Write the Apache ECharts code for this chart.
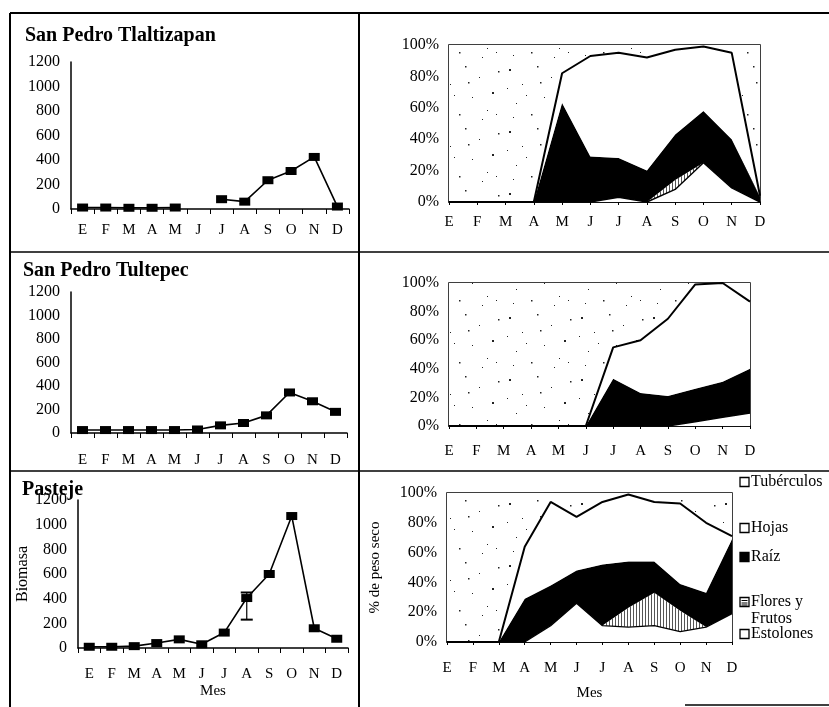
<!DOCTYPE html>
<html>
<head>
<meta charset="utf-8">
<script src="https://cdn.jsdelivr.net/npm/echarts@6/dist/echarts.min.js"></script>
<style>
html,body{margin:0;padding:0;background:#fff;}
#chart{width:829px;height:707px;}
</style>
</head>
<body>
<div id="chart"></div>
<script>
// ---------- data ----------
const months = ['E','F','M','A','M','J','J','A','S','O','N','D'];
const yTicksBiomasa = [0,200,400,600,800,1000,1200];
const yTicksPct = [0,20,40,60,80,100];

const titles = ['San Pedro Tlaltizapan','San Pedro Tultepec','Pasteje'];

// Biomasa (left column)
const biomasaTlaltizapan = [12,12,10,10,12,null,80,60,235,310,425,20];
const biomasaTultepec   = [25,25,25,25,25,30,65,85,150,345,270,180];
const biomasaPasteje    = [10,10,15,40,70,30,125,405,600,1070,160,75];
const errorPasteje      = [[7,230,450]]; // [month index, low, high]

// % de peso seco (right column)  — components, bottom to top
const legendNames = ['Tubérculos','Hojas','Raíz','Flores y Frutos','Estolones'];

const tlEstolones = [0,0,0,0,0,0,3,0,8,25,9,0];
const tlFlores    = [0,0,0,0,0,0,0,0,6,0,0,0];
const tlRaiz      = [0,0,0,0,63,29,25,20,29,33,31,3];
const tlHojas     = [0,0,0,0,19,64,67,72,54,41,55,1];
const tlTuberculos= [100,100,100,100,18,7,5,8,3,1,5,96];

const tuEstolones = [0,0,0,0,0,0,0,0,0,3,6,9];
const tuFlores    = [0,0,0,0,0,0,0,0,0,0,0,0];
const tuRaiz      = [0,0,0,0,0,0,33,23,21,23,25,31];
const tuHojas     = [0,0,0,0,0,0,22,37,54,73,69,47];
const tuTuberculos= [100,100,100,100,100,100,45,40,25,1,0,13];

const paEstolones = [0,0,0,0,11,26,11,10,11,7,10,19];
const paFlores    = [0,0,0,0,0,0,0,13,22,14,0,0];
const paRaiz      = [0,0,0,29,27,22,41,31,21,18,23,50];
const paHojas     = [0,0,0,35,56,36,42,45,40,54,47,2];
const paTuberculos= [100,100,100,36,6,16,6,1,6,7,20,29];

// ---------- patterns ----------
function stipple(){
  const c=document.createElement('canvas'); c.width=72; c.height=62;
  const g=c.getContext('2d'); g.fillStyle='#fff'; g.fillRect(0,0,72,62);
  g.fillStyle='#222';
  const pts=[[5,7,2],[18,22,1],[33,4,1.5],[47,15,1],[60,30,2],[12,41,1],[27,52,1.5],[40,35,1],[55,48,1],[66,9,1.5],[22,33,1],[50,57,1],[3,26,1],[36,20,1.5],[64,52,1],[9,55,1]];
  pts.forEach(p=>g.fillRect(p[0],p[1],p[2],p[2]));
  return c;
}
function hatch(){
  const c=document.createElement('canvas'); c.width=3; c.height=3;
  const g=c.getContext('2d'); g.fillStyle='#fff'; g.fillRect(0,0,3,3);
  g.fillStyle='#555'; g.fillRect(0,0,1,3);
  return c;
}
const stipplePat={image:stipple(),repeat:'repeat'};
const hatchPat={image:hatch(),repeat:'repeat'};

const serif='Liberation Serif';

// ---------- layout ----------
const leftGrids=[
  {left:71,top:62,width:278,height:147},
  {left:71,top:292,width:276,height:141},
  {left:78,top:500,width:270,height:148}
];
const rightGrids=[
  {left:449,top:45,width:311,height:157},
  {left:449,top:283,width:301,height:143},
  {left:447,top:493,width:285,height:149}
];
const leftLabelMargin=[14,20,19];
const rightLabelMargin=[13,18,19];

const grids=[], xAxes=[], yAxes=[], series=[];
leftGrids.forEach((g,i)=>{
  grids.push(Object.assign({show:false},g));
  xAxes.push({type:'category',gridIndex:i,data:months,boundaryGap:true,
    axisLine:{lineStyle:{color:'#000',width:1.5}},
    axisTick:{show:true,length:5,lineStyle:{color:'#000'}},
    axisLabel:{color:'#000',fontFamily:serif,fontSize:15,margin:leftLabelMargin[i],interval:0},
    name:i===2?'Mes':'',nameLocation:'middle',nameGap:36,
    nameTextStyle:{color:'#000',fontFamily:serif,fontSize:15}});
  yAxes.push({type:'value',gridIndex:i,min:yTicksBiomasa[0],max:yTicksBiomasa[yTicksBiomasa.length-1],interval:200,
    axisLine:{show:true,lineStyle:{color:'#000',width:1.5}},
    axisTick:{show:false},splitLine:{show:false},
    axisLabel:{color:'#000',fontFamily:serif,fontSize:16,margin:11,formatter:v=>String(v)},
    name:i===2?'Biomasa':'',nameLocation:'middle',nameGap:45,nameRotate:90,
    nameTextStyle:{color:'#000',fontFamily:serif,fontSize:16}});
});
rightGrids.forEach((g,i)=>{
  grids.push(Object.assign({show:true,borderColor:'#000',borderWidth:1.5,backgroundColor:'transparent'},g));
  xAxes.push({type:'category',gridIndex:3+i,data:months,boundaryGap:false,
    axisLine:{lineStyle:{color:'#000',width:1.5}},
    axisTick:{show:true,length:3,lineStyle:{color:'#000'}},
    axisLabel:{color:'#000',fontFamily:serif,fontSize:15,margin:rightLabelMargin[i],interval:0},
    name:i===2?'Mes':'',nameLocation:'middle',nameGap:44,
    nameTextStyle:{color:'#000',fontFamily:serif,fontSize:15}});
  yAxes.push({type:'value',gridIndex:3+i,min:0,max:100,interval:20,
    axisLine:{show:false},axisTick:{show:false},splitLine:{show:false},
    axisLabel:{color:'#000',fontFamily:serif,fontSize:16,margin:10,formatter:'{value}%'},
    name:i===2?'% de peso seco':'',nameLocation:'middle',nameGap:64,nameRotate:90,
    nameTextStyle:{color:'#000',fontFamily:serif,fontSize:15}});
});

// left line series
[biomasaTlaltizapan,biomasaTultepec,biomasaPasteje].forEach((d,i)=>{
  series.push({type:'line',xAxisIndex:i,yAxisIndex:i,data:d,connectNulls:false,
    symbol:'rect',symbolSize:[11,8],itemStyle:{color:'#000'},
    lineStyle:{color:'#000',width:1.6},z:4});
});
series.push({type:'custom',xAxisIndex:2,yAxisIndex:2,data:errorPasteje,z:5,
  encode:{x:0,y:[1,2]},
  renderItem:function(params,api){
    const x=api.value(0), lo=api.value(1), hi=api.value(2);
    const a=api.coord([x,lo]), b=api.coord([x,hi]);
    const st={stroke:'#000',lineWidth:1.2};
    const cap={stroke:'#000',lineWidth:2};
    return {type:'group',children:[
      {type:'line',shape:{x1:a[0],y1:a[1],x2:b[0],y2:b[1]},style:st},
      {type:'line',shape:{x1:a[0]-6,y1:a[1],x2:a[0]+6,y2:a[1]},style:cap},
      {type:'line',shape:{x1:b[0]-6,y1:b[1],x2:b[0]+6,y2:b[1]},style:cap}
    ]};
  }});

// right stacked areas
const stacks=[
  [tlEstolones,tlFlores,tlRaiz,tlHojas,tlTuberculos],
  [tuEstolones,tuFlores,tuRaiz,tuHojas,tuTuberculos],
  [paEstolones,paFlores,paRaiz,paHojas,paTuberculos]
];
stacks.forEach((s,i)=>{
  const ax=3+i, st='pct'+i;
  const base={type:'line',xAxisIndex:ax,yAxisIndex:ax,stack:st,symbol:'none',showSymbol:false};
  series.push(Object.assign({},base,{name:'Estolones',data:s[0],areaStyle:{color:'#fff',opacity:1},lineStyle:{color:'#000',width:1.4},z:3}));
  series.push(Object.assign({},base,{name:'Flores y Frutos',data:s[1],areaStyle:{color:hatchPat,opacity:1},lineStyle:{width:0},z:2}));
  series.push(Object.assign({},base,{name:'Raíz',data:s[2],areaStyle:{color:'#000',opacity:1},lineStyle:{color:'#000',width:0.5},z:2}));
  series.push(Object.assign({},base,{name:'Hojas',data:s[3],areaStyle:{color:'#fff',opacity:1},lineStyle:{color:'#000',width:2},z:4}));
  series.push(Object.assign({},base,{name:'Tubérculos',data:s[4],areaStyle:{color:stipplePat,opacity:1},lineStyle:{width:0},z:1}));
});

// ---------- graphics: frame, titles, legend ----------
function ln(x1,y1,x2,y2,w){return {type:'line',shape:{x1,y1,x2,y2},style:{stroke:'#000',lineWidth:w},z:100};}
const graphics=[
  ln(10,13,829,13,2), ln(10,13,10,707,2), ln(359,13,359,707,2),
  ln(10,252,829,252,1.5), ln(10,471,829,471,1.5), ln(685,705,829,705,1.5)
];
const titlePos=[[25,26],[23,261],[22,480]];
titles.forEach((t,i)=>graphics.push({type:'text',left:titlePos[i][0],top:titlePos[i][1],z:100,
  style:{text:t,fill:'#000',font:'bold 20px "Liberation Serif"'}}));

const legendRows=[
  {y:482,text:'Tubérculos',fill:'#fff'},
  {y:528,text:'Hojas',fill:'#fff'},
  {y:557,text:'Raíz',fill:'#000'},
  {y:602,text:'Flores y',fill:'hatch'},
  {y:619,text:'Frutos',fill:null},
  {y:634,text:'Estolones',fill:'#fff'}
];
legendRows.forEach(r=>{
  if(r.fill){
    graphics.push({type:'rect',shape:{x:740,y:r.y-4.5,width:9,height:9},z:100,
      style:{fill:r.fill==='hatch'?'#fff':r.fill,stroke:'#000',lineWidth:1.3}});
    if(r.fill==='hatch'){
      graphics.push(ln(741.5,r.y-1.5,747.5,r.y-1.5,1)); graphics.push(ln(741.5,r.y+1,747.5,r.y+1,1)); graphics.push(ln(741.5,r.y+3,747.5,r.y+3,1));
    }
  }
  graphics.push({type:'text',x:751,y:r.y,z:100,
    style:{text:r.text,fill:'#000',font:'16px "Liberation Serif"',verticalAlign:'middle'}});
});

const chart=echarts.init(document.getElementById('chart'),null,{renderer:'canvas'});
chart.setOption({
  animation:false,
  backgroundColor:'#fff',
  grid:grids, xAxis:xAxes, yAxis:yAxes, series:series, graphic:graphics
});
</script>
</body>
</html>
